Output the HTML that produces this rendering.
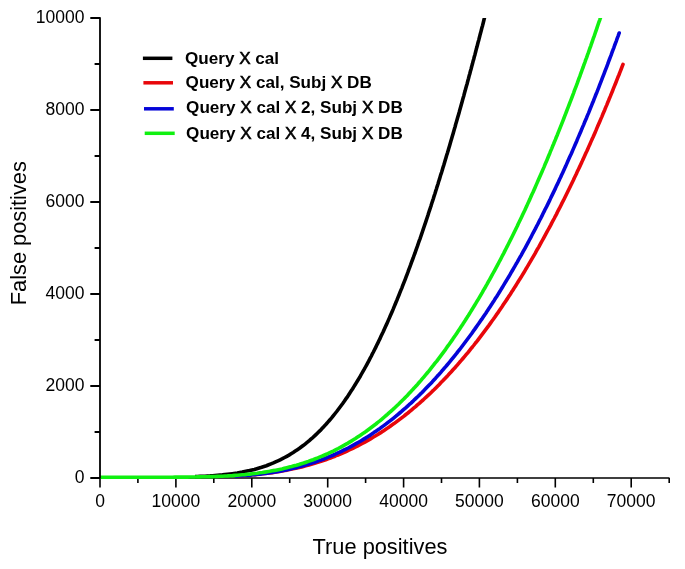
<!DOCTYPE html><html><head><meta charset="utf-8"><style>html,body{margin:0;padding:0;background:#fff;}svg{display:block;will-change:transform;}text{font-family:"Liberation Sans",sans-serif;fill:#000;}</style></head><body>
<svg width="685" height="569" viewBox="0 0 685 569">
<rect width="685" height="569" fill="#fff"/>
<defs><clipPath id="pc"><rect x="100" y="18" width="580" height="470"/></clipPath><clipPath id="pcb"><rect x="195" y="18" width="580" height="470"/></clipPath><clipPath id="pcr"><rect x="235" y="18" width="580" height="470"/></clipPath></defs>
<path d="M99.2 478 H669.5 M100.0 478 V487.5 M137.9 478 V483 M175.9 478 V487.5 M213.8 478 V483 M251.8 478 V487.5 M289.7 478 V483 M327.7 478 V487.5 M365.6 478 V483 M403.6 478 V487.5 M441.5 478 V483 M479.4 478 V487.5 M517.4 478 V483 M555.3 478 V487.5 M593.3 478 V483 M631.2 478 V487.5 M669.2 478 V483" stroke="#000" stroke-width="1.6" fill="none"/>
<g fill="none" stroke-width="3.6" stroke-linejoin="round" stroke-linecap="round">
<path clip-path="url(#pcb)" d="M100.0 477.2 L102.5 477.2 L105.0 477.2 L107.5 477.2 L110.0 477.2 L112.5 477.2 L115.0 477.2 L117.5 477.2 L120.0 477.2 L122.5 477.2 L125.0 477.2 L127.5 477.2 L130.0 477.2 L132.5 477.2 L135.0 477.2 L137.5 477.2 L140.0 477.2 L142.5 477.2 L145.0 477.2 L147.5 477.2 L150.0 477.2 L152.5 477.2 L155.0 477.2 L157.5 477.2 L160.0 477.1 L162.5 477.1 L165.0 477.1 L167.5 477.1 L170.0 477.1 L172.5 477.1 L175.0 477.0 L177.5 477.0 L180.0 477.0 L182.5 476.9 L185.0 476.9 L187.5 476.8 L190.0 476.7 L192.5 476.7 L195.0 476.6 L197.5 476.5 L200.0 476.4 L202.5 476.3 L205.0 476.2 L207.5 476.0 L210.0 475.9 L212.5 475.7 L215.0 475.5 L217.5 475.3 L219.9 475.1 L222.4 474.9 L224.9 474.6 L227.4 474.3 L229.9 474.0 L232.4 473.7 L234.8 473.4 L237.3 473.0 L239.8 472.5 L242.2 472.1 L244.7 471.6 L247.1 471.1 L249.6 470.6 L252.0 470.0 L254.4 469.4 L256.8 468.7 L259.2 468.0 L261.6 467.3 L264.0 466.5 L266.4 465.7 L268.7 464.8 L271.0 463.9 L273.4 462.9 L275.6 461.9 L277.9 460.9 L280.2 459.8 L282.4 458.7 L284.6 457.5 L286.8 456.3 L289.0 455.1 L291.1 453.8 L293.2 452.5 L295.3 451.1 L297.4 449.7 L299.5 448.3 L301.5 446.8 L303.5 445.3 L305.4 443.8 L307.4 442.2 L309.3 440.6 L311.2 438.9 L313.1 437.3 L314.9 435.6 L316.7 433.9 L318.5 432.1 L320.3 430.4 L322.0 428.6 L323.7 426.8 L325.4 424.9 L327.1 423.1 L328.7 421.2 L330.4 419.3 L332.0 417.4 L333.6 415.4 L335.1 413.5 L336.7 411.5 L338.2 409.5 L339.7 407.5 L341.2 405.5 L342.7 403.5 L344.1 401.5 L345.5 399.4 L347.0 397.4 L348.4 395.3 L349.7 393.2 L351.1 391.1 L352.5 389.0 L353.8 386.9 L355.1 384.8 L356.4 382.6 L357.7 380.5 L359.0 378.3 L360.3 376.2 L361.5 374.0 L362.7 371.9 L364.0 369.7 L365.2 367.5 L366.4 365.3 L367.6 363.1 L368.8 360.9 L369.9 358.7 L371.1 356.5 L372.2 354.2 L373.4 352.0 L374.5 349.8 L375.6 347.6 L376.7 345.3 L377.8 343.1 L378.9 340.8 L380.0 338.6 L381.0 336.3 L382.1 334.0 L383.2 331.8 L384.2 329.5 L385.2 327.2 L386.3 324.9 L387.3 322.7 L388.3 320.4 L389.3 318.1 L390.3 315.8 L391.3 313.5 L392.3 311.2 L393.3 308.9 L394.2 306.6 L395.2 304.3 L396.1 302.0 L397.1 299.7 L398.0 297.4 L399.0 295.0 L399.9 292.7 L400.8 290.4 L401.8 288.1 L402.7 285.7 L403.6 283.4 L404.5 281.1 L405.4 278.8 L406.3 276.4 L407.2 274.1 L408.1 271.7 L408.9 269.4 L409.8 267.1 L410.7 264.7 L411.5 262.4 L412.4 260.0 L413.3 257.7 L414.1 255.3 L415.0 253.0 L415.8 250.6 L416.6 248.3 L417.5 245.9 L418.3 243.5 L419.1 241.2 L420.0 238.8 L420.8 236.5 L421.6 234.1 L422.4 231.7 L423.2 229.4 L424.0 227.0 L424.8 224.6 L425.6 222.3 L426.4 219.9 L427.2 217.5 L428.0 215.1 L428.7 212.8 L429.5 210.4 L430.3 208.0 L431.1 205.6 L431.8 203.3 L432.6 200.9 L433.4 198.5 L434.1 196.1 L434.9 193.7 L435.6 191.4 L436.4 189.0 L437.1 186.6 L437.9 184.2 L438.6 181.8 L439.4 179.4 L440.1 177.0 L440.8 174.6 L441.6 172.3 L442.3 169.9 L443.0 167.5 L443.8 165.1 L444.5 162.7 L445.2 160.3 L445.9 157.9 L446.6 155.5 L447.4 153.1 L448.1 150.7 L448.8 148.3 L449.5 145.9 L450.2 143.5 L450.9 141.1 L451.6 138.7 L452.3 136.3 L453.0 133.9 L453.7 131.5 L454.4 129.1 L455.1 126.7 L455.7 124.3 L456.4 121.9 L457.1 119.5 L457.8 117.1 L458.5 114.7 L459.2 112.3 L459.8 109.9 L460.5 107.5 L461.2 105.1 L461.9 102.6 L462.5 100.2 L463.2 97.8 L463.9 95.4 L464.5 93.0 L465.2 90.6 L465.8 88.2 L466.5 85.8 L467.2 83.4 L467.8 81.0 L468.5 78.5 L469.1 76.1 L469.8 73.7 L470.4 71.3 L471.1 68.9 L471.7 66.5 L472.4 64.1 L473.0 61.6 L473.7 59.2 L474.3 56.8 L475.0 54.4 L475.6 52.0 L476.2 49.6 L476.9 47.1 L477.5 44.7 L478.1 42.3 L478.8 39.9 L479.4 37.5 L480.0 35.1 L480.7 32.6 L481.3 30.2 L481.9 27.8 L482.6 25.4 L483.2 23.0 L483.8 20.5 L484.4 18.1 L485.0 15.7 L485.7 13.3 L486.3 10.8 L486.9 8.4 L487.0 8.1" stroke="#000000"/>
<path clip-path="url(#pcr)" d="M100.0 477.2 L102.5 477.2 L105.0 477.2 L107.5 477.2 L110.0 477.2 L112.5 477.2 L115.0 477.2 L117.5 477.2 L120.0 477.2 L122.5 477.2 L125.0 477.2 L127.5 477.2 L130.0 477.2 L132.5 477.2 L135.0 477.2 L137.5 477.2 L140.0 477.2 L142.5 477.2 L145.0 477.2 L147.5 477.2 L150.0 477.2 L152.5 477.2 L155.0 477.2 L157.5 477.2 L160.0 477.2 L162.5 477.2 L165.0 477.2 L167.5 477.2 L170.0 477.2 L172.5 477.2 L175.0 477.2 L177.5 477.2 L180.0 477.2 L182.5 477.2 L185.0 477.2 L187.5 477.1 L190.0 477.1 L192.5 477.1 L195.0 477.1 L197.5 477.1 L200.0 477.1 L202.5 477.0 L205.0 477.0 L207.5 476.9 L210.0 476.9 L212.5 476.9 L215.0 476.8 L217.5 476.7 L220.0 476.7 L222.5 476.6 L225.0 476.5 L227.5 476.4 L230.0 476.3 L232.5 476.2 L235.0 476.1 L237.5 475.9 L240.0 475.8 L242.5 475.6 L245.0 475.4 L247.5 475.3 L249.9 475.1 L252.4 474.8 L254.9 474.6 L257.4 474.4 L259.9 474.1 L262.4 473.8 L264.9 473.5 L267.4 473.2 L269.8 472.9 L272.3 472.6 L274.8 472.2 L277.3 471.8 L279.7 471.4 L282.2 471.0 L284.6 470.5 L287.1 470.1 L289.6 469.6 L292.0 469.1 L294.4 468.6 L296.9 468.0 L299.3 467.4 L301.7 466.9 L304.2 466.2 L306.6 465.6 L309.0 464.9 L311.4 464.3 L313.8 463.6 L316.2 462.8 L318.6 462.1 L321.0 461.3 L323.3 460.5 L325.7 459.7 L328.0 458.8 L330.4 458.0 L332.7 457.1 L335.1 456.2 L337.4 455.2 L339.7 454.3 L342.0 453.3 L344.3 452.3 L346.6 451.3 L348.8 450.2 L351.1 449.2 L353.3 448.1 L355.6 447.0 L357.8 445.8 L360.0 444.7 L362.2 443.5 L364.4 442.3 L366.6 441.1 L368.8 439.9 L370.9 438.6 L373.1 437.3 L375.2 436.0 L377.4 434.7 L379.5 433.4 L381.6 432.1 L383.7 430.7 L385.8 429.3 L387.8 427.9 L389.9 426.5 L391.9 425.0 L394.0 423.6 L396.0 422.1 L398.0 420.6 L400.0 419.1 L402.0 417.6 L404.0 416.1 L405.9 414.5 L407.9 413.0 L409.8 411.4 L411.7 409.8 L413.6 408.2 L415.6 406.6 L417.4 404.9 L419.3 403.3 L421.2 401.6 L423.1 400.0 L424.9 398.3 L426.7 396.6 L428.6 394.9 L430.4 393.2 L432.2 391.4 L434.0 389.7 L435.8 387.9 L437.5 386.2 L439.3 384.4 L441.0 382.6 L442.8 380.8 L444.5 379.0 L446.2 377.2 L447.9 375.4 L449.6 373.5 L451.3 371.7 L453.0 369.8 L454.7 368.0 L456.3 366.1 L458.0 364.2 L459.6 362.3 L461.3 360.4 L462.9 358.5 L464.5 356.6 L466.1 354.7 L467.7 352.8 L469.3 350.8 L470.8 348.9 L472.4 347.0 L474.0 345.0 L475.5 343.0 L477.1 341.1 L478.6 339.1 L480.1 337.1 L481.6 335.1 L483.1 333.1 L484.6 331.1 L486.1 329.1 L487.6 327.1 L489.1 325.1 L490.5 323.1 L492.0 321.0 L493.5 319.0 L494.9 317.0 L496.3 314.9 L497.8 312.9 L499.2 310.8 L500.6 308.7 L502.0 306.7 L503.4 304.6 L504.8 302.5 L506.2 300.4 L507.6 298.4 L508.9 296.3 L510.3 294.2 L511.6 292.1 L513.0 290.0 L514.3 287.9 L515.7 285.7 L517.0 283.6 L518.3 281.5 L519.6 279.4 L521.0 277.3 L522.3 275.1 L523.6 273.0 L524.9 270.8 L526.1 268.7 L527.4 266.6 L528.7 264.4 L530.0 262.2 L531.2 260.1 L532.5 257.9 L533.7 255.8 L535.0 253.6 L536.2 251.4 L537.4 249.2 L538.7 247.1 L539.9 244.9 L541.1 242.7 L542.3 240.5 L543.5 238.3 L544.7 236.1 L545.9 233.9 L547.1 231.7 L548.3 229.5 L549.5 227.3 L550.7 225.1 L551.8 222.9 L553.0 220.7 L554.2 218.5 L555.3 216.3 L556.5 214.1 L557.6 211.8 L558.7 209.6 L559.9 207.4 L561.0 205.2 L562.1 202.9 L563.3 200.7 L564.4 198.5 L565.5 196.2 L566.6 194.0 L567.7 191.7 L568.8 189.5 L569.9 187.2 L571.0 185.0 L572.1 182.7 L573.2 180.5 L574.2 178.2 L575.3 176.0 L576.4 173.7 L577.4 171.4 L578.5 169.2 L579.6 166.9 L580.6 164.7 L581.7 162.4 L582.7 160.1 L583.8 157.8 L584.8 155.6 L585.8 153.3 L586.9 151.0 L587.9 148.7 L588.9 146.4 L589.9 144.2 L590.9 141.9 L591.9 139.6 L593.0 137.3 L594.0 135.0 L595.0 132.7 L596.0 130.4 L596.9 128.1 L597.9 125.8 L598.9 123.5 L599.9 121.2 L600.9 118.9 L601.9 116.6 L602.8 114.3 L603.8 112.0 L604.8 109.7 L605.7 107.4 L606.7 105.1 L607.6 102.8 L608.6 100.5 L609.5 98.2 L610.5 95.9 L611.4 93.6 L612.4 91.2 L613.3 88.9 L614.2 86.6 L615.2 84.3 L616.1 82.0 L617.0 79.6 L617.9 77.3 L618.9 75.0 L619.8 72.7 L620.7 70.3 L621.6 68.0 L622.5 65.7 L623.0 64.4" stroke="#e8060a"/>
<path clip-path="url(#pcr)" d="M100.0 477.2 L102.5 477.2 L105.0 477.2 L107.5 477.2 L110.0 477.2 L112.5 477.2 L115.0 477.2 L117.5 477.2 L120.0 477.2 L122.5 477.2 L125.0 477.2 L127.5 477.2 L130.0 477.2 L132.5 477.2 L135.0 477.2 L137.5 477.2 L140.0 477.2 L142.5 477.2 L145.0 477.2 L147.5 477.2 L150.0 477.2 L152.5 477.2 L155.0 477.2 L157.5 477.2 L160.0 477.2 L162.5 477.2 L165.0 477.2 L167.5 477.2 L170.0 477.2 L172.5 477.2 L175.0 477.2 L177.5 477.2 L180.0 477.2 L182.5 477.2 L185.0 477.2 L187.5 477.2 L190.0 477.1 L192.5 477.1 L195.0 477.1 L197.5 477.1 L200.0 477.1 L202.5 477.1 L205.0 477.0 L207.5 477.0 L210.0 476.9 L212.5 476.9 L215.0 476.8 L217.5 476.8 L220.0 476.7 L222.5 476.6 L225.0 476.5 L227.5 476.5 L230.0 476.3 L232.5 476.2 L235.0 476.1 L237.5 476.0 L240.0 475.8 L242.5 475.6 L245.0 475.5 L247.5 475.3 L249.9 475.1 L252.4 474.8 L254.9 474.6 L257.4 474.3 L259.9 474.1 L262.4 473.8 L264.9 473.5 L267.3 473.1 L269.8 472.8 L272.3 472.4 L274.8 472.0 L277.2 471.6 L279.7 471.2 L282.1 470.7 L284.6 470.2 L287.0 469.7 L289.5 469.2 L291.9 468.6 L294.4 468.0 L296.8 467.4 L299.2 466.8 L301.6 466.2 L304.0 465.5 L306.4 464.8 L308.8 464.1 L311.2 463.3 L313.6 462.6 L315.9 461.8 L318.3 460.9 L320.7 460.1 L323.0 459.2 L325.3 458.3 L327.7 457.4 L330.0 456.4 L332.3 455.5 L334.6 454.5 L336.8 453.4 L339.1 452.4 L341.4 451.3 L343.6 450.2 L345.9 449.1 L348.1 448.0 L350.3 446.8 L352.5 445.6 L354.7 444.4 L356.9 443.2 L359.0 442.0 L361.2 440.7 L363.3 439.4 L365.5 438.1 L367.6 436.8 L369.7 435.4 L371.8 434.0 L373.8 432.6 L375.9 431.2 L378.0 429.8 L380.0 428.4 L382.0 426.9 L384.1 425.4 L386.1 423.9 L388.0 422.4 L390.0 420.9 L392.0 419.3 L393.9 417.8 L395.9 416.2 L397.8 414.6 L399.7 413.0 L401.6 411.4 L403.5 409.7 L405.4 408.1 L407.3 406.4 L409.1 404.7 L411.0 403.1 L412.8 401.4 L414.6 399.6 L416.4 397.9 L418.2 396.2 L420.0 394.4 L421.8 392.7 L423.5 390.9 L425.3 389.1 L427.0 387.3 L428.7 385.5 L430.5 383.7 L432.2 381.9 L433.9 380.0 L435.6 378.2 L437.2 376.3 L438.9 374.5 L440.6 372.6 L442.2 370.7 L443.8 368.8 L445.5 366.9 L447.1 365.0 L448.7 363.1 L450.3 361.2 L451.9 359.2 L453.4 357.3 L455.0 355.3 L456.6 353.4 L458.1 351.4 L459.7 349.5 L461.2 347.5 L462.7 345.5 L464.2 343.5 L465.7 341.5 L467.2 339.5 L468.7 337.5 L470.2 335.5 L471.7 333.5 L473.1 331.4 L474.6 329.4 L476.0 327.4 L477.5 325.3 L478.9 323.3 L480.3 321.2 L481.8 319.2 L483.2 317.1 L484.6 315.0 L486.0 313.0 L487.3 310.9 L488.7 308.8 L490.1 306.7 L491.5 304.6 L492.8 302.5 L494.2 300.4 L495.5 298.3 L496.9 296.2 L498.2 294.1 L499.5 292.0 L500.8 289.8 L502.1 287.7 L503.4 285.6 L504.7 283.4 L506.0 281.3 L507.3 279.1 L508.6 277.0 L509.9 274.8 L511.1 272.7 L512.4 270.5 L513.6 268.4 L514.9 266.2 L516.1 264.0 L517.4 261.9 L518.6 259.7 L519.8 257.5 L521.1 255.3 L522.3 253.1 L523.5 250.9 L524.7 248.8 L525.9 246.6 L527.1 244.4 L528.3 242.2 L529.4 240.0 L530.6 237.8 L531.8 235.5 L532.9 233.3 L534.1 231.1 L535.3 228.9 L536.4 226.7 L537.6 224.5 L538.7 222.2 L539.8 220.0 L541.0 217.8 L542.1 215.6 L543.2 213.3 L544.3 211.1 L545.4 208.8 L546.6 206.6 L547.7 204.4 L548.8 202.1 L549.9 199.9 L550.9 197.6 L552.0 195.4 L553.1 193.1 L554.2 190.9 L555.3 188.6 L556.3 186.3 L557.4 184.1 L558.5 181.8 L559.5 179.5 L560.6 177.3 L561.6 175.0 L562.7 172.7 L563.7 170.5 L564.7 168.2 L565.8 165.9 L566.8 163.6 L567.8 161.3 L568.8 159.1 L569.8 156.8 L570.9 154.5 L571.9 152.2 L572.9 149.9 L573.9 147.6 L574.9 145.3 L575.9 143.0 L576.9 140.7 L577.8 138.4 L578.8 136.1 L579.8 133.8 L580.8 131.5 L581.7 129.2 L582.7 126.9 L583.7 124.6 L584.6 122.3 L585.6 120.0 L586.6 117.7 L587.5 115.4 L588.5 113.1 L589.4 110.8 L590.3 108.5 L591.3 106.1 L592.2 103.8 L593.2 101.5 L594.1 99.2 L595.0 96.9 L595.9 94.5 L596.9 92.2 L597.8 89.9 L598.7 87.6 L599.6 85.2 L600.5 82.9 L601.4 80.6 L602.3 78.2 L603.2 75.9 L604.1 73.6 L605.0 71.2 L605.9 68.9 L606.8 66.6 L607.7 64.2 L608.5 61.9 L609.4 59.5 L610.3 57.2 L611.2 54.9 L612.0 52.5 L612.9 50.2 L613.8 47.8 L614.6 45.5 L615.5 43.1 L616.4 40.8 L617.2 38.4 L618.1 36.1 L618.9 33.7 L619.2 33.0" stroke="#0404d8"/>
<path clip-path="url(#pc)" d="M100.0 477.2 L102.5 477.2 L105.0 477.2 L107.5 477.2 L110.0 477.2 L112.5 477.2 L115.0 477.2 L117.5 477.2 L120.0 477.2 L122.5 477.2 L125.0 477.2 L127.5 477.2 L130.0 477.2 L132.5 477.2 L135.0 477.2 L137.5 477.2 L140.0 477.2 L142.5 477.2 L145.0 477.2 L147.5 477.2 L150.0 477.2 L152.5 477.2 L155.0 477.2 L157.5 477.2 L160.0 477.2 L162.5 477.2 L165.0 477.2 L167.5 477.2 L170.0 477.2 L172.5 477.2 L175.0 477.1 L177.5 477.1 L180.0 477.1 L182.5 477.1 L185.0 477.1 L187.5 477.1 L190.0 477.0 L192.5 477.0 L195.0 477.0 L197.5 476.9 L200.0 476.9 L202.5 476.8 L205.0 476.8 L207.5 476.7 L210.0 476.6 L212.5 476.6 L215.0 476.5 L217.5 476.4 L220.0 476.3 L222.5 476.2 L225.0 476.0 L227.5 475.9 L230.0 475.7 L232.5 475.6 L235.0 475.4 L237.5 475.2 L239.9 475.0 L242.4 474.8 L244.9 474.6 L247.4 474.3 L249.9 474.1 L252.4 473.8 L254.9 473.5 L257.3 473.2 L259.8 472.8 L262.3 472.5 L264.8 472.1 L267.2 471.7 L269.7 471.3 L272.2 470.8 L274.6 470.4 L277.1 469.9 L279.5 469.4 L282.0 468.9 L284.4 468.3 L286.8 467.7 L289.3 467.1 L291.7 466.5 L294.1 465.8 L296.5 465.2 L298.9 464.5 L301.3 463.7 L303.7 463.0 L306.0 462.2 L308.4 461.4 L310.8 460.5 L313.1 459.7 L315.5 458.8 L317.8 457.9 L320.1 456.9 L322.4 456.0 L324.7 455.0 L327.0 454.0 L329.3 452.9 L331.5 451.9 L333.8 450.8 L336.0 449.6 L338.2 448.5 L340.4 447.3 L342.6 446.1 L344.8 444.9 L347.0 443.7 L349.1 442.4 L351.3 441.1 L353.4 439.8 L355.5 438.5 L357.6 437.1 L359.7 435.7 L361.8 434.3 L363.8 432.9 L365.9 431.5 L367.9 430.0 L369.9 428.5 L371.9 427.0 L373.9 425.5 L375.9 424.0 L377.8 422.4 L379.8 420.9 L381.7 419.3 L383.6 417.7 L385.5 416.0 L387.4 414.4 L389.3 412.7 L391.1 411.1 L393.0 409.4 L394.8 407.7 L396.6 406.0 L398.5 404.2 L400.2 402.5 L402.0 400.7 L403.8 399.0 L405.5 397.2 L407.3 395.4 L409.0 393.6 L410.7 391.8 L412.4 389.9 L414.1 388.1 L415.8 386.2 L417.5 384.4 L419.1 382.5 L420.8 380.6 L422.4 378.7 L424.0 376.8 L425.6 374.9 L427.2 373.0 L428.8 371.1 L430.4 369.1 L431.9 367.2 L433.5 365.2 L435.0 363.2 L436.6 361.3 L438.1 359.3 L439.6 357.3 L441.1 355.3 L442.6 353.3 L444.1 351.3 L445.6 349.3 L447.0 347.2 L448.5 345.2 L449.9 343.2 L451.4 341.1 L452.8 339.1 L454.2 337.0 L455.6 335.0 L457.0 332.9 L458.4 330.8 L459.8 328.7 L461.2 326.6 L462.6 324.5 L463.9 322.4 L465.3 320.3 L466.6 318.2 L468.0 316.1 L469.3 314.0 L470.6 311.9 L471.9 309.8 L473.2 307.6 L474.5 305.5 L475.8 303.4 L477.1 301.2 L478.4 299.1 L479.7 296.9 L480.9 294.8 L482.2 292.6 L483.4 290.4 L484.7 288.3 L485.9 286.1 L487.2 283.9 L488.4 281.7 L489.6 279.6 L490.8 277.4 L492.0 275.2 L493.2 273.0 L494.4 270.8 L495.6 268.6 L496.8 266.4 L498.0 264.2 L499.1 262.0 L500.3 259.8 L501.5 257.5 L502.6 255.3 L503.8 253.1 L504.9 250.9 L506.0 248.7 L507.2 246.4 L508.3 244.2 L509.4 242.0 L510.6 239.7 L511.7 237.5 L512.8 235.3 L513.9 233.0 L515.0 230.8 L516.1 228.5 L517.2 226.3 L518.2 224.0 L519.3 221.8 L520.4 219.5 L521.5 217.2 L522.5 215.0 L523.6 212.7 L524.7 210.5 L525.7 208.2 L526.8 205.9 L527.8 203.6 L528.8 201.4 L529.9 199.1 L530.9 196.8 L531.9 194.5 L533.0 192.3 L534.0 190.0 L535.0 187.7 L536.0 185.4 L537.0 183.1 L538.0 180.8 L539.0 178.5 L540.0 176.2 L541.0 174.0 L542.0 171.7 L543.0 169.4 L544.0 167.1 L544.9 164.8 L545.9 162.5 L546.9 160.2 L547.9 157.8 L548.8 155.5 L549.8 153.2 L550.7 150.9 L551.7 148.6 L552.6 146.3 L553.6 144.0 L554.5 141.7 L555.5 139.4 L556.4 137.0 L557.4 134.7 L558.3 132.4 L559.2 130.1 L560.1 127.8 L561.1 125.4 L562.0 123.1 L562.9 120.8 L563.8 118.5 L564.7 116.1 L565.6 113.8 L566.5 111.5 L567.4 109.1 L568.3 106.8 L569.2 104.5 L570.1 102.1 L571.0 99.8 L571.9 97.5 L572.8 95.1 L573.7 92.8 L574.5 90.4 L575.4 88.1 L576.3 85.8 L577.2 83.4 L578.0 81.1 L578.9 78.7 L579.8 76.4 L580.6 74.0 L581.5 71.7 L582.3 69.3 L583.2 67.0 L584.0 64.6 L584.9 62.3 L585.7 59.9 L586.6 57.6 L587.4 55.2 L588.3 52.9 L589.1 50.5 L589.9 48.2 L590.8 45.8 L591.6 43.4 L592.4 41.1 L593.2 38.7 L594.1 36.4 L594.9 34.0 L595.7 31.6 L596.5 29.3 L597.3 26.9 L598.1 24.5 L598.9 22.2 L599.8 19.8 L600.6 17.4 L601.4 15.1 L602.2 12.7 L603.0 10.3 L603.7 8.1" stroke="#10f010"/>
</g>
<path d="M100 17.2 V478.8 M90.3 478.0 H100 M94.6 432.0 H100 M90.3 386.0 H100 M94.6 340.0 H100 M90.3 294.0 H100 M94.6 248.0 H100 M90.3 202.0 H100 M94.6 156.0 H100 M90.3 110.0 H100 M94.6 64.0 H100 M90.3 18.0 H100" stroke="#000" stroke-width="1.8" fill="none"/>
<text x="84.5" y="482.9" font-size="17.5" text-anchor="end">0</text>
<text x="84.5" y="390.9" font-size="17.5" text-anchor="end">2000</text>
<text x="84.5" y="298.9" font-size="17.5" text-anchor="end">4000</text>
<text x="84.5" y="206.9" font-size="17.5" text-anchor="end">6000</text>
<text x="84.5" y="114.9" font-size="17.5" text-anchor="end">8000</text>
<text x="84.5" y="22.9" font-size="17.5" text-anchor="end">10000</text>
<text x="100.0" y="506.7" font-size="17.5" text-anchor="middle">0</text>
<text x="175.9" y="506.7" font-size="17.5" text-anchor="middle">10000</text>
<text x="251.8" y="506.7" font-size="17.5" text-anchor="middle">20000</text>
<text x="327.7" y="506.7" font-size="17.5" text-anchor="middle">30000</text>
<text x="403.6" y="506.7" font-size="17.5" text-anchor="middle">40000</text>
<text x="479.4" y="506.7" font-size="17.5" text-anchor="middle">50000</text>
<text x="555.3" y="506.7" font-size="17.5" text-anchor="middle">60000</text>
<text x="631.2" y="506.7" font-size="17.5" text-anchor="middle">70000</text>
<text x="380" y="554.2" font-size="21.8" text-anchor="middle">True positives</text>
<text transform="translate(26.3 233.2) rotate(-90)" x="0" y="0" font-size="21.8" text-anchor="middle">False positives</text>
<path d="M142.9 58.3 H172.4" stroke="#000000" stroke-width="3.5" fill="none"/>
<path d="M143.4 82.8 H173.0" stroke="#e8060a" stroke-width="3.5" fill="none"/>
<path d="M144.0 108.8 H173.8" stroke="#0404d8" stroke-width="3.5" fill="none"/>
<path d="M144.7 133.3 H174.7" stroke="#10f010" stroke-width="3.5" fill="none"/>
<text x="185.0" y="63.9" font-size="17.1" font-weight="bold">Query <tspan font-weight="normal" stroke="#000" stroke-width="0.55">X</tspan> cal</text>
<text x="185.6" y="87.7" font-size="17.1" font-weight="bold">Query <tspan font-weight="normal" stroke="#000" stroke-width="0.55">X</tspan> cal, Subj <tspan font-weight="normal" stroke="#000" stroke-width="0.55">X</tspan> DB</text>
<text x="186.1" y="113.0" font-size="17.1" font-weight="bold">Query <tspan font-weight="normal" stroke="#000" stroke-width="0.55">X</tspan> cal <tspan font-weight="normal" stroke="#000" stroke-width="0.55">X</tspan> 2, Subj <tspan font-weight="normal" stroke="#000" stroke-width="0.55">X</tspan> DB</text>
<text x="186.1" y="138.8" font-size="17.1" font-weight="bold">Query <tspan font-weight="normal" stroke="#000" stroke-width="0.55">X</tspan> cal <tspan font-weight="normal" stroke="#000" stroke-width="0.55">X</tspan> 4, Subj <tspan font-weight="normal" stroke="#000" stroke-width="0.55">X</tspan> DB</text>
</svg></body></html>
